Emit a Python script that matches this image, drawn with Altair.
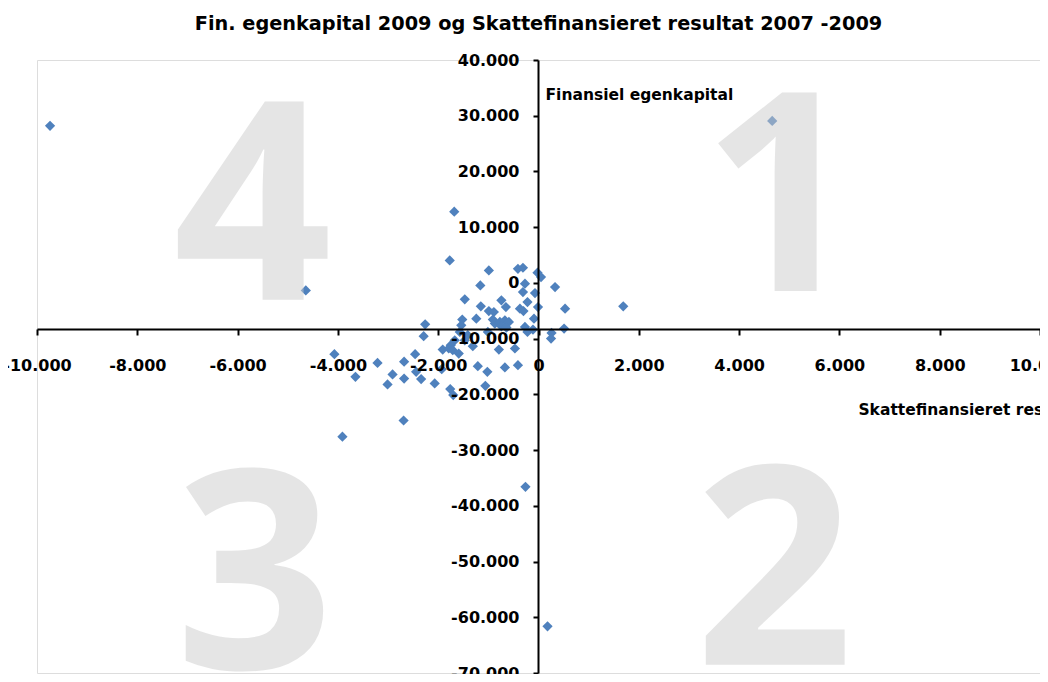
import altair as alt
import pandas as pd

# Scatter data: Skattefinansieret resultat 2007-2009 (x) vs Fin. egenkapital 2009 (y)
x_vals = [-9740, 4660, -4640, -1680, -1770, -990, -1160, -1470, -1150, -990,
          -890, -740, -650, -410, -310, -270, -310, -220, -370, -300,
          -70, -20, 50, 330, -10, 530, 1690, -1240, -1520, -1540,
          -1570, -2260, -2290, -910, -870, -770, -670, -590, -740, -640,
          -1010, -270, -220, -110, -90, 260, 250, 510, -1410, -1310,
          -1470, -1670, -1750, -1910, -1790, -1710, -1590, -790, -470, -1210,
          -1020, -670, -410, -2460, -2440, -2680, -2680, -2340, -2070, -1930,
          -1760, -1700, -1060, -2690, -3910, -4070, -3650, -3210, -2910, -3010,
          -260, 180]
y_vals = [28180, 29070, -1340, 12790, 4030, 2240, -450, -2950, -4200, -5050,
          -5220, -3130, -4330, 2540, 2720, -140, -1650, -3440, -4620, -5050,
          -1830, 1830, 1040, -750, -4330, -4620, -4200, -6410, -6580, -7600,
          -8800, -7420, -9570, -6580, -7300, -7010, -6710, -7010, -7780, -8020,
          -8800, -7910, -8800, -8370, -6410, -8980, -9980, -8190, -9390, -11360,
          -10290, -10290, -11180, -11950, -11770, -12080, -12670, -11950, -11770, -14940,
          -15960, -15170, -14760, -12790, -15960, -14130, -17170, -17260, -18030, -15480,
          -19050, -20130, -18460, -24690, -27590, -12790, -16850, -14350, -16420, -18210,
          -36590, -61630]

x_ticks = [-10000, -8000, -6000, -4000, -2000, 0, 2000, 4000, 6000, 8000, 10000]
y_ticks = [40000, 30000, 20000, 10000, 0, -10000, -20000, -30000, -40000, -50000, -60000, -70000]

quad_labels = ["4", "1", "3", "2"]
quad_x = [-5700, 4840, -5660, 4700]
quad_y = [-3040, -1430, -69250, -68540]

annot_text = ["Finansiel egenkapital", "Skattefinansieret resultat"]
annot_x = [140, 6380]
annot_y = [32750, -23620]

title_text = ["Fin. egenkapital 2009  og Skattefinansieret resultat 2007 -2009"]
title_x = [0]
title_y = [45450]

pts = pd.DataFrame({"x": x_vals, "y": y_vals})
quads = pd.DataFrame({"t": quad_labels, "x": quad_x, "y": quad_y})
annots = pd.DataFrame({"t": annot_text, "x": annot_x, "y": annot_y})
titles = pd.DataFrame({"t": title_text, "x": title_x, "y": title_y})

xs = alt.Scale(domain=[-10000, 10000], nice=False, zero=False)
ys = alt.Scale(domain=[-70000, 40000], nice=False, zero=False)

label_expr = "replace(replace(format(datum.value, ',d'), ',', '.'), '\u2212', '-')"

FONT = "DejaVu Sans"
FS = 16

x_axis = alt.Axis(values=x_ticks, orient="bottom", offset=-344, grid=False, title=None,
                  domainColor="black", domainWidth=2, tickColor="black", tickWidth=2, tickSize=6,
                  labelFont=FONT, labelFontWeight="bold", labelFontSize=FS, labelColor="black",
                  labelPadding=22, labelFlush=False, labelOverlap=False, labelExpr=label_expr,
                  zindex=1)
y_axis = alt.Axis(values=y_ticks, orient="left", offset=-501, grid=False, title=None,
                  domainColor="black", domainWidth=2, tickColor="black", tickWidth=2, tickSize=5,
                  labelFont=FONT, labelFontWeight="bold", labelFontSize=FS, labelColor="black",
                  labelPadding=14, labelFlush=False, labelOverlap=False, labelExpr=label_expr,
                  zindex=1)

points = alt.Chart(pts).mark_point(shape="diamond", filled=True, size=105, color="#4f81bd", opacity=1).encode(
    x=alt.X("x:Q", scale=xs, axis=x_axis),
    y=alt.Y("y:Q", scale=ys, axis=y_axis),
)

big = alt.Chart(quads).mark_text(font="Open Sans", fontWeight="bold", fontSize=278, color="#cccccc",
                                 opacity=0.5, align="center", baseline="alphabetic").encode(
    x=alt.X("x:Q", scale=xs), y=alt.Y("y:Q", scale=ys), text="t:N")

ann = alt.Chart(annots).mark_text(font=FONT, fontWeight="bold", fontSize=15.5, color="black",
                                  align="left", baseline="alphabetic", clip=True).encode(
    x=alt.X("x:Q", scale=xs), y=alt.Y("y:Q", scale=ys), text="t:N")

ttl = alt.Chart(titles).mark_text(font=FONT, fontWeight="bold", fontSize=19.3, color="black",
                                  align="center", baseline="alphabetic").encode(
    x=alt.X("x:Q", scale=xs), y=alt.Y("y:Q", scale=ys), text="t:N")

chart = alt.layer(points, big, ann, ttl).properties(
    width=1003, height=613,
    autosize=alt.AutoSizeParams(type="none"),
    padding={"left": 29, "top": 52, "right": 0, "bottom": 1},
).configure_view(stroke="#808080", strokeWidth=1.5).configure(background="white")

chart.save("out.html", embed_options={"renderer": "svg", "actions": False})
